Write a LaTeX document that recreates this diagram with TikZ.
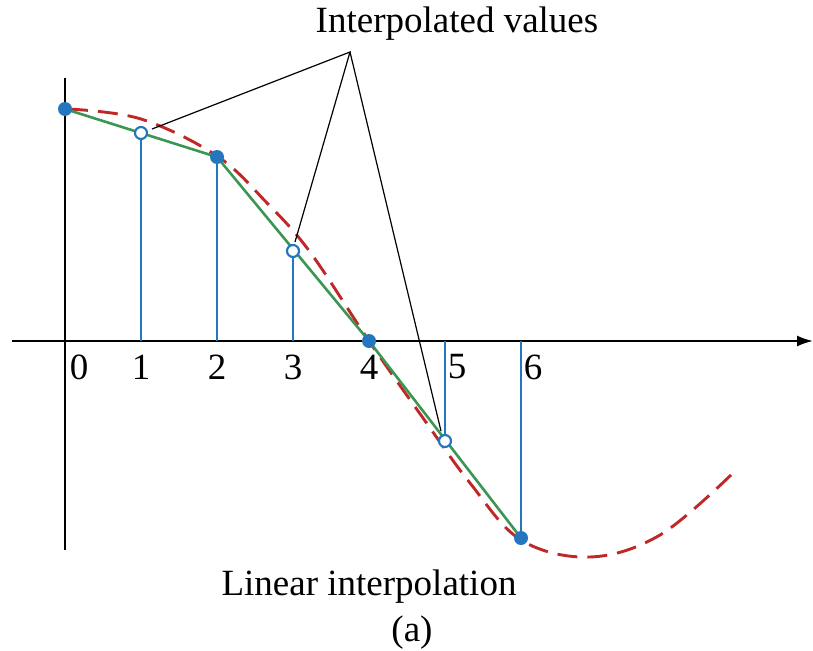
\documentclass[tikz,border=0pt]{standalone}
\usepackage{fontspec}
\setmainfont{Liberation Serif}
\usetikzlibrary{arrows.meta}
\definecolor{stemblue}{RGB}{36,118,190}
\definecolor{lingreen}{RGB}{58,150,82}
\definecolor{curvered}{RGB}{192,40,40}
\begin{document}
\begin{tikzpicture}[x=1pt,y=-1pt,
  axisline/.style={line width=1.9pt,black},
  stemline/.style={line width=2.6pt,stemblue},
  linline/.style={line width=2.6pt,lingreen},
  truecurve/.style={line width=2.9pt,curvered,dash pattern=on 20pt off 10pt},
  pointer/.style={line width=1.2pt,black},
  sample/.style={circle,fill=stemblue,inner sep=0pt,minimum size=14pt},
  interp/.style={circle,draw=stemblue,fill=white,line width=2.2pt,inner sep=0pt,minimum size=12pt},
  ticklabel/.style={font=\fontsize{37}{40}\selectfont,inner sep=0pt},
  caption/.style={font=\fontsize{37}{40}\selectfont,inner sep=0pt}]
\useasboundingbox (0,0) rectangle (813,650);
% axes
\coordinate (xl) at (12,341);
\coordinate (xr) at (813,341);
\coordinate (yt) at (65,78);
\coordinate (yb) at (65,550);
\draw[axisline,-{Latex[length=16pt,width=11pt]}] (xl) -- (xr);
\draw[axisline] (yt) -- (yb);
% feet on axis
\coordinate (a1) at (141,341);
\coordinate (a2) at (217,341);
\coordinate (a3) at (293,341);
\coordinate (a5) at (445,341);
\coordinate (a6) at (521,341);
% sample positions
\coordinate (c0) at (65,109);
\coordinate (c1) at (141,133);
\coordinate (c2) at (217,157);
\coordinate (c3) at (293,251);
\coordinate (c4) at (369,341);
\coordinate (c5) at (445,441);
\coordinate (c6) at (521,538);
% stems
\draw[stemline] (a1) -- (c1);
\draw[stemline] (a2) -- (c2);
\draw[stemline] (a3) -- (c3);
\draw[stemline] (a5) -- (c5);
\draw[stemline] (a6) -- (c6);
% true curve
\draw[truecurve] plot[smooth,tension=0.6] coordinates {(68,109) (141,119) (217,156) (267,203) (310,252) (369,341) (423,418) (470,483) (521,540) (590,557) (660,535) (732,474)};
% linear interpolation
\draw[linline] (c0) -- (c2) -- (c4) -- (c6);
% points
\node[sample] (s0) at (c0) {};
\node[sample] (s2) at (c2) {};
\node[sample] (s4) at (c4) {};
\node[sample] (s6) at (c6) {};
\node[interp] (s1) at (c1) {};
\node[interp] (s3) at (c3) {};
\node[interp] (s5) at (c5) {};
% pointers
\coordinate (apex) at (350,52);
\coordinate (p1) at (152,129);
\coordinate (p3) at (295,242);
\coordinate (p5) at (441,431);
\draw[pointer] (p1) -- (apex) -- (p3);
\draw[pointer] (apex) -- (p5);
% labels
\node[caption] (title) at (457,24) {Interpolated values};
\node[caption] (cap) at (369,587) {Linear interpolation};
\node[caption] (capa) at (412,633) {(a)};
\node[ticklabel] (l0) at (79,367) {0};
\node[ticklabel] (l1) at (141,367) {1};
\node[ticklabel] (l2) at (217,367) {2};
\node[ticklabel] (l3) at (293,367) {3};
\node[ticklabel] (l4) at (369,367) {4};
\node[ticklabel] (l5) at (457,367) {5};
\node[ticklabel] (l6) at (533,367) {6};
\end{tikzpicture}
\end{document}
